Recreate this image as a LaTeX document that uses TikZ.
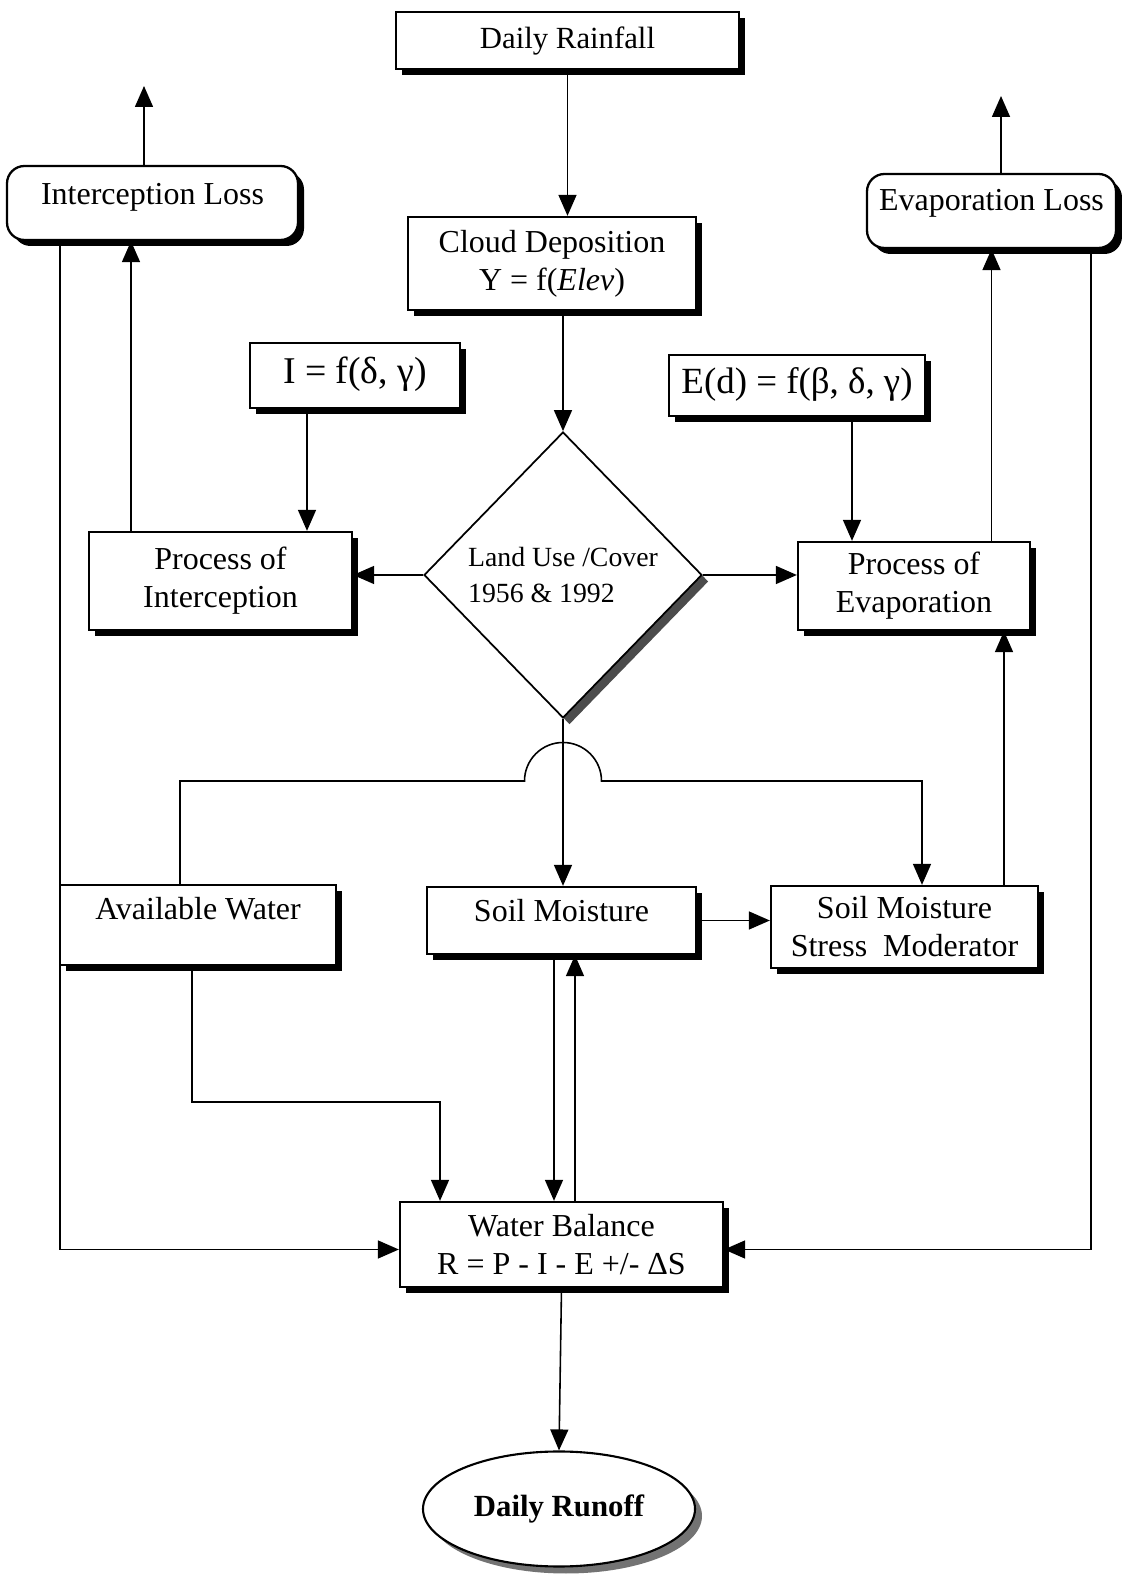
\documentclass[tikz,border=0pt]{standalone}
\usepackage{fontspec}
\setmainfont{Liberation Serif}
\usetikzlibrary{arrows.meta,shapes.geometric,shadows}

\begin{document}
\begin{tikzpicture}[
		font=\fontsize{18.2}{21.7}\selectfont,
		boxnode/.style={draw, line width=1.3pt, fill=white, align=center, inner sep=0.05cm,
			drop shadow={shadow xshift=0.12cm, shadow yshift=-0.12cm, fill=black, opacity=1}},
		onerow/.style={text height=0.45cm, text depth=0.13cm},
		roundbox/.style={boxnode, onerow, rounded corners=0.35cm},
		choice/.style={diamond, draw, line width=1pt, fill=white, align=left, inner sep=0pt,
			font=\fontsize{15.8}{20}\selectfont,
			drop shadow={shadow xshift=0.13cm, shadow yshift=-0.13cm, fill=black!70, opacity=1}},
		endnode/.style={ellipse, draw, line width=1.2pt, fill=white, font=\fontsize{17.5}{21}\selectfont\bfseries,
			drop shadow={shadow xshift=0.14cm, shadow yshift=-0.14cm, fill=black!55, opacity=1}},
		conn/.style={line width=0.9pt, -{Triangle[length=0.42cm, width=0.36cm]}}
	]
		\useasboundingbox (0,0) rectangle (22.44,31.6);
		\node[boxnode, onerow, font=\fontsize{17.5}{21}\selectfont, minimum width=6.86cm, minimum height=1.14cm] (rain) at (11.35,30.79) {Daily Rainfall};
		\node[boxnode, minimum width=5.76cm, minimum height=1.86cm] (cloud) at (11.04,26.33) {Cloud Deposition\\Y = f(\textit{Elev})};
		\node[roundbox, text depth=0.37cm, minimum width=5.82cm, minimum height=1.48cm] (iloss) at (3.05,27.54) {Interception Loss};
		\node[roundbox, text depth=0.45cm, minimum width=4.98cm, minimum height=1.48cm] (eloss) at (19.83,27.38) {Evaporation Loss};
		\node[boxnode, onerow, font=\fontsize{21.5}{25}\selectfont, minimum width=4.2cm, minimum height=1.3cm] (ifun) at (7.1,24.09) {I = f(δ, γ)};
		\node[boxnode, onerow, font=\fontsize{21}{25}\selectfont, minimum width=5.12cm, minimum height=1.22cm] (efun) at (15.94,23.89) {E(d) = f(β, δ, γ)};
		\node[boxnode, minimum width=5.26cm, minimum height=1.96cm] (pint) at (4.41,19.98) {Process of\\Interception};
		\node[choice, minimum width=5.56cm, minimum height=5.72cm] (landuse) at (11.26,20.1) {Land Use /Cover\\1956 \& 1992};
		\node[boxnode, minimum width=4.64cm, minimum height=1.76cm] (pevap) at (18.28,19.88) {Process of\\Evaporation};
		\node[boxnode, onerow, text depth=0.65cm, minimum width=5.52cm, minimum height=1.6cm] (avail) at (3.96,13.1) {Available Water};
		\node[boxnode, onerow, text depth=0.41cm, minimum width=5.38cm, minimum height=1.34cm] (soil) at (11.23,13.19) {Soil Moisture};
		\node[boxnode, minimum width=5.34cm, minimum height=1.64cm] (stress) at (18.09,13.06) {Soil Moisture\\Stress~ Moderator};
		\node[boxnode, minimum width=6.46cm, minimum height=1.7cm] (wbal) at (11.23,6.71) {Water Balance\\R = P - I - E +/- ΔS};
		\node[endnode, minimum width=5.44cm, minimum height=2.3cm] (runoff) at (11.18,1.42) {Daily Runoff};
		\coordinate (iltop) at (2.88,29.88);
		\coordinate (eltop) at (20.02,29.68);
		\coordinate (hop) at (11.26,15.98);
		\coordinate (elbow) at (8.8,9.56);
		\draw[conn] (rain.south) -- (rain.south |- cloud.north);
		\draw[conn] (landuse.north |- cloud.south) -- (landuse.north);
		\draw[conn] (iltop |- iloss.north) -- (iltop);
		\draw[conn] (eltop |- eloss.north) -- (eltop);
		\draw[conn] ([xshift=-1.79cm]pint.north) -- ([xshift=-1.79cm]pint.north |- iloss.south);
		\draw[conn] ([xshift=-0.96cm]ifun.south) -- ([xshift=-0.96cm]ifun.south |- pint.north);
		\draw[conn] (landuse.west) -- (landuse.west -| pint.east);
		\draw[conn] (landuse.east) -- (landuse.east -| pevap.west);
		\draw[conn] ([xshift=1.1cm]efun.south) -- ([xshift=1.1cm]efun.south |- pevap.north);
		\draw[conn] (eloss.south |- pevap.north) -- (eloss.south);
		\draw[conn] ([xshift=1.99cm]stress.north) -- ([xshift=1.99cm]stress.north |- pevap.south);
		\draw[conn] (landuse.south) -- (landuse.south |- soil.north);
		\draw[conn] ([xshift=-0.36cm]avail.north) |- ([xshift=-0.77cm]hop) arc[start angle=180, end angle=0, radius=0.77cm] -| ([xshift=0.35cm]stress.north);
		\draw[conn] (soil.east) -- (soil.east -| stress.west);
		\draw[conn] ([xshift=-0.12cm]avail.south) |- (elbow) -- (elbow |- wbal.north);
		\draw[conn] ([xshift=-0.15cm]soil.south) -- ([xshift=-0.15cm]soil.south |- wbal.north);
		\draw[conn] ([xshift=0.27cm]wbal.north) -- ([xshift=0.27cm]wbal.north |- soil.south);
		\draw[conn] ([xshift=-1.85cm]iloss.south) |- ([yshift=-0.1cm]wbal.west);
		\draw[conn] ([xshift=1.99cm]eloss.south) |- ([yshift=-0.1cm]wbal.east);
		\draw[conn] (wbal.south) -- (runoff.north);
	\end{tikzpicture}
\end{document}
